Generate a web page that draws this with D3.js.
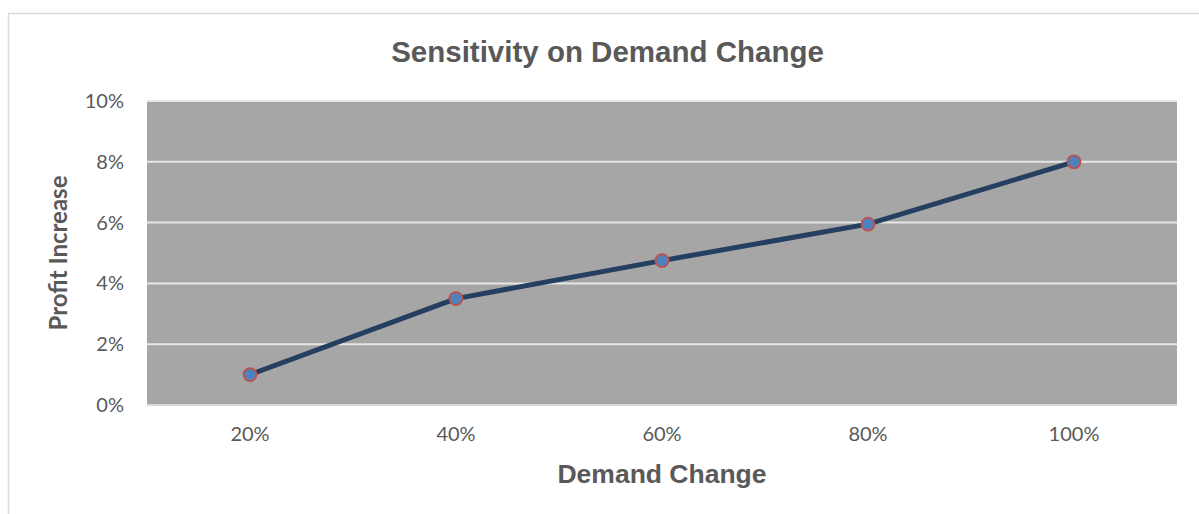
<!DOCTYPE html>
<html>
<head>
<meta charset="utf-8">
<script src="https://cdn.jsdelivr.net/npm/d3@7"></script>
<style>
  html, body { margin: 0; padding: 0; background: #fff; }
  svg { display: block; }
</style>
</head>
<body>
<svg id="chart" width="1199" height="514"></svg>
<script>
const categories = ["20%", "40%", "60%", "80%", "100%"];
const profitIncrease = [0.01, 0.035, 0.0475, 0.0595, 0.08];
const yTicks = [0, 0.02, 0.04, 0.06, 0.08, 0.10];

const svg = d3.select("#chart");
const W = 1199, H = 514;
const m = { left: 147, right: 22, top: 101, bottom: 109 };
const pw = W - m.left - m.right, ph = H - m.top - m.bottom;

// outer chart border
svg.append("rect").attr("x", 8.5).attr("y", 13.5).attr("width", 1300).attr("height", 700)
  .attr("fill", "#fff").attr("stroke", "#d9d9d9").attr("stroke-width", 1.5);

const x = d3.scaleBand().domain(categories).range([m.left, m.left + pw]);
const y = d3.scaleLinear().domain([0, 0.10]).range([m.top + ph, m.top]);

// plot background
svg.append("rect").attr("x", m.left).attr("y", m.top).attr("width", pw).attr("height", ph)
  .attr("fill", "#a6a6a6");

// gridlines
svg.append("g").selectAll("line").data(yTicks).join("line")
  .attr("x1", m.left).attr("x2", m.left + pw)
  .attr("y1", d => y(d)).attr("y2", d => y(d))
  .attr("stroke", d => d === 0 ? "#d9d9d9" : "#e6e6e6").attr("stroke-width", 2);

const tickFont = "Lato, 'Open Sans', sans-serif";

// y axis labels
const yAxis = d3.axisLeft(y).tickValues(yTicks).tickFormat(d3.format(".0%")).tickSize(0).tickPadding(23);
const gy = svg.append("g").attr("transform", `translate(${m.left},0)`).call(yAxis);
gy.select(".domain").remove();
gy.selectAll("text").attr("fill", "#595959").style("font-family", tickFont).style("font-size", "20px");

// x axis labels
const xAxis = d3.axisBottom(x).tickSize(0).tickPadding(22);
const gx = svg.append("g").attr("transform", `translate(0,${m.top + ph})`).call(xAxis);
gx.select(".domain").remove();
gx.selectAll("text").attr("fill", "#595959").style("font-family", tickFont).style("font-size", "20px");

// line
const data = categories.map((c, i) => ({ c, v: profitIncrease[i] }));
const line = d3.line().x(d => x(d.c) + x.bandwidth() / 2).y(d => y(d.v));
svg.append("path").datum(data).attr("d", line)
  .attr("fill", "none").attr("stroke", "#243f60").attr("stroke-width", 5)
  .attr("stroke-linejoin", "round").attr("stroke-linecap", "round");

// markers
svg.append("g").selectAll("circle").data(data).join("circle")
  .attr("cx", d => x(d.c) + x.bandwidth() / 2).attr("cy", d => y(d.v)).attr("r", 6.5)
  .attr("fill", "#4f81bd").attr("stroke", "#c0504d").attr("stroke-width", 1.8);

// title
svg.append("text").attr("x", 607.5).attr("y", 62).attr("text-anchor", "middle")
  .attr("fill", "#595959").style("font-family", "'Liberation Sans', Arial, sans-serif")
  .style("font-weight", "bold").style("font-size", "29.5px").text("Sensitivity on Demand Change");

// x axis title
svg.append("text").attr("x", 662).attr("y", 483).attr("text-anchor", "middle")
  .attr("fill", "#595959").style("font-family", "'Liberation Sans', Arial, sans-serif")
  .style("font-weight", "bold").style("font-size", "26.5px").text("Demand Change");

// y axis title
svg.append("text").attr("transform", "translate(67,253) rotate(-90)").attr("text-anchor", "middle")
  .attr("fill", "#595959").style("font-family", tickFont)
  .style("font-weight", "bold").style("font-size", "24px").text("Profit Increase");
</script>
</body>
</html>
